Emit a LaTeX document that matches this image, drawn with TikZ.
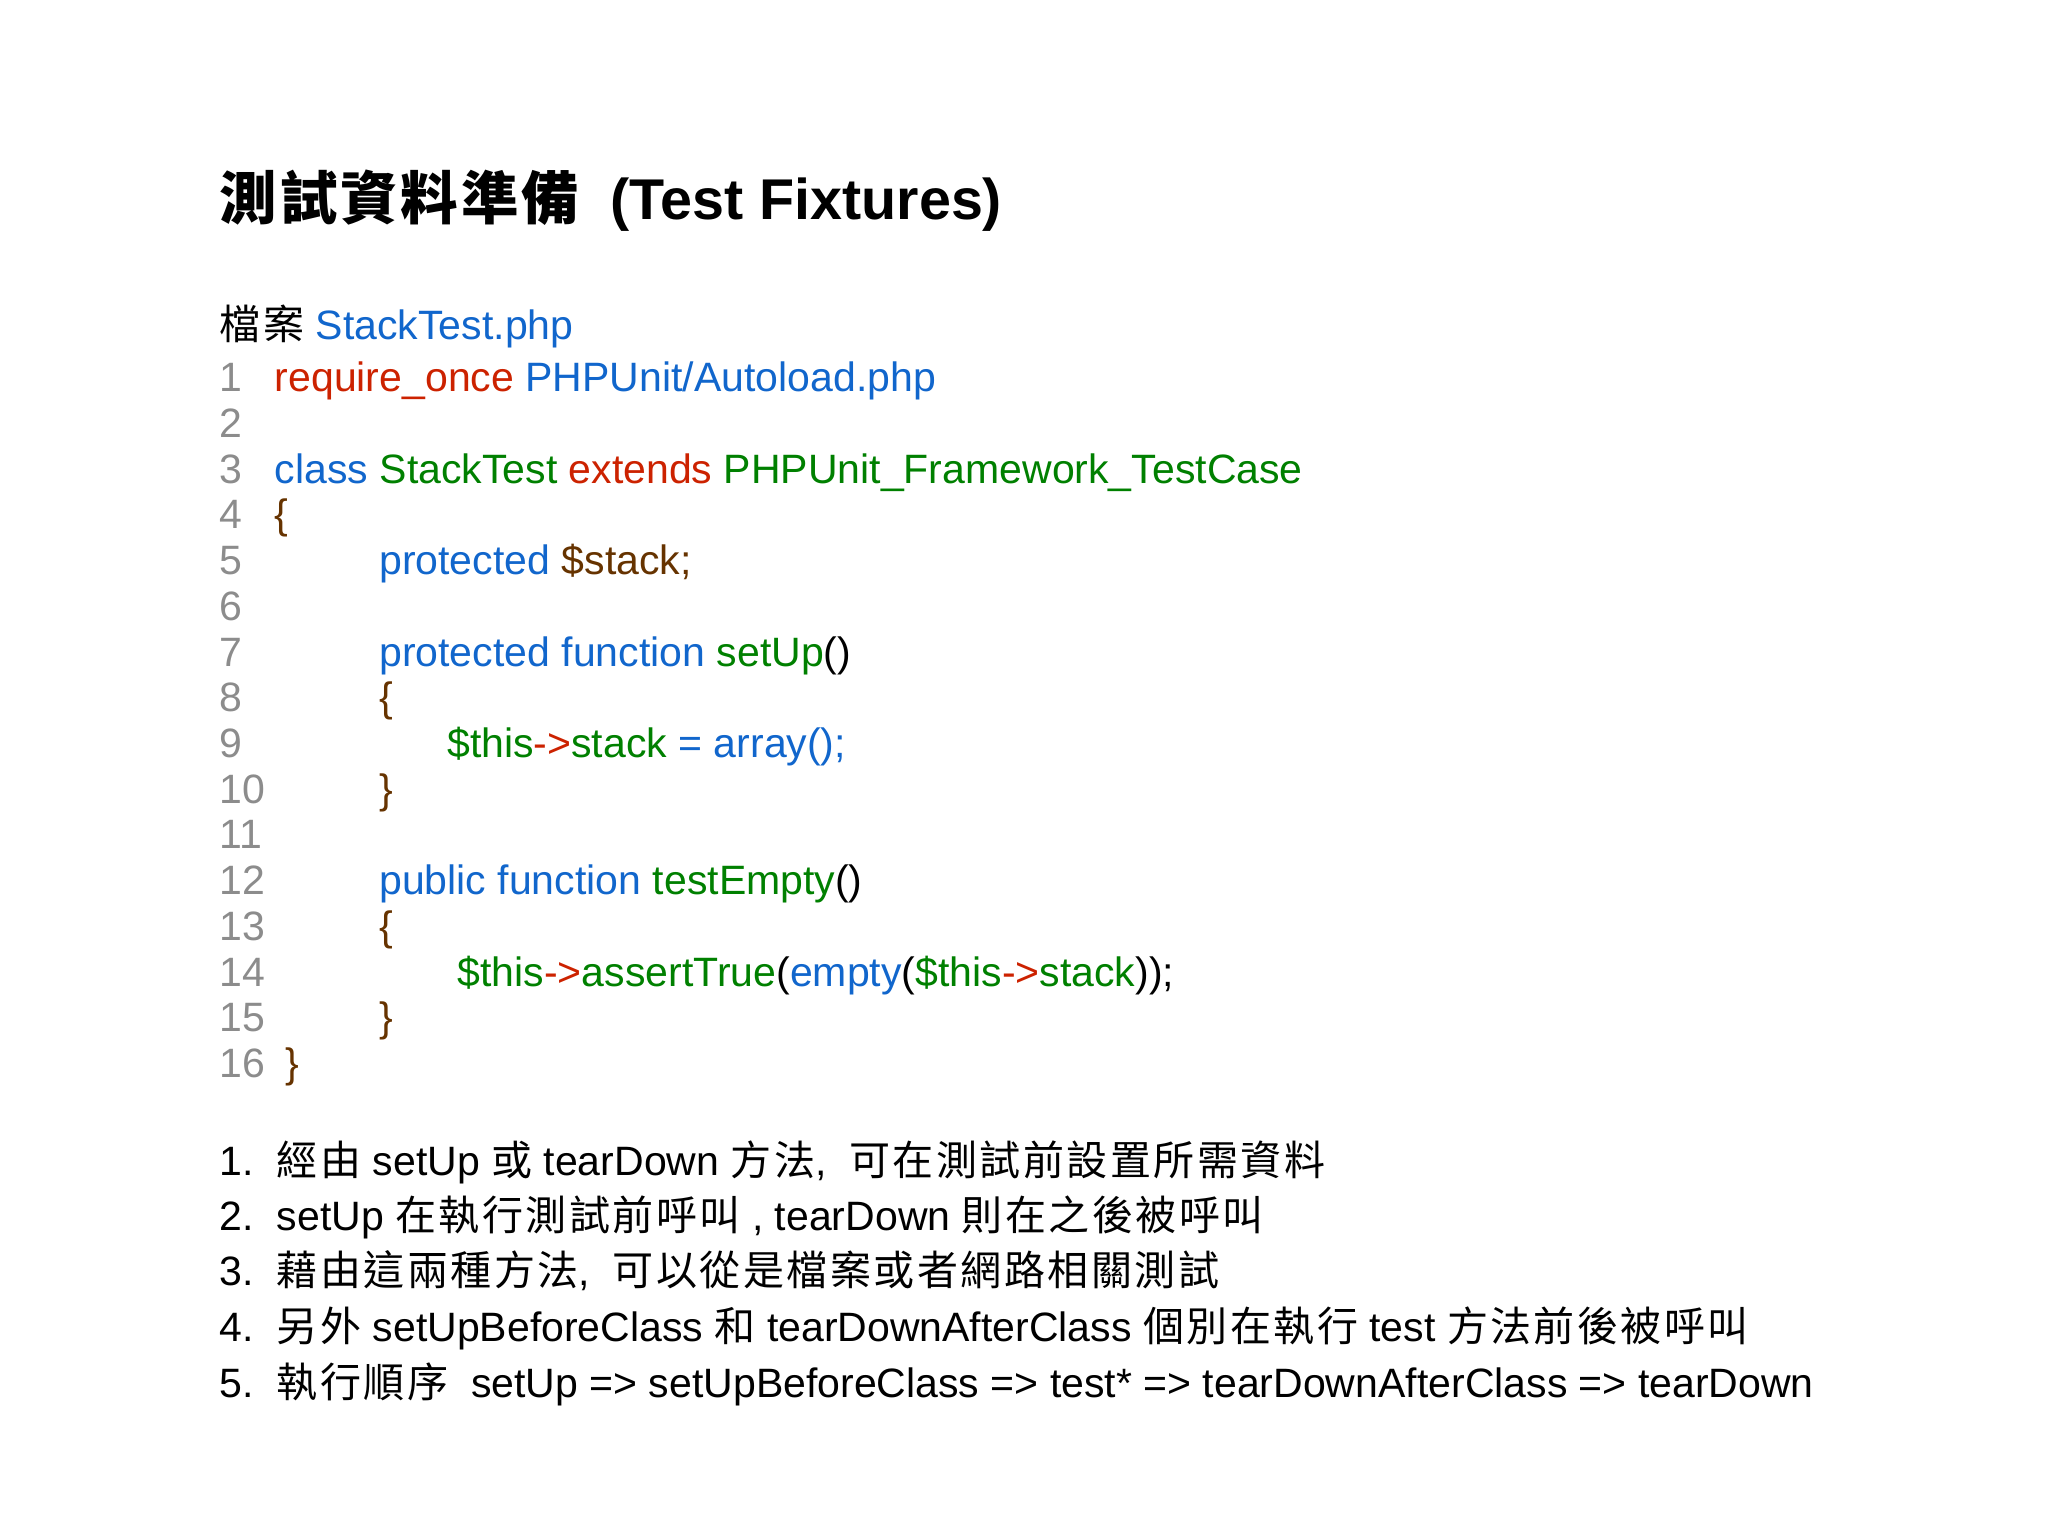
\documentclass[tikz,border=0pt]{standalone}
\usepackage{fontspec}
\setmainfont{Liberation Sans}
\newfontfamily\cjk[LetterSpace=6]{Noto Sans CJK TC}
\newfontfamily\cjkt[LetterSpace=5]{Noto Sans CJK TC}
\definecolor{kred}{RGB}{204,34,0}
\definecolor{kblue}{RGB}{17,102,204}
\definecolor{kgreen}{RGB}{0,128,0}
\definecolor{kbrown}{RGB}{102,51,0}
\definecolor{kgray}{RGB}{140,140,140}
\newcommand{\R}[1]{\textcolor{kred}{#1}}
\newcommand{\B}[1]{\textcolor{kblue}{#1}}
\newcommand{\G}[1]{\textcolor{kgreen}{#1}}
\newcommand{\N}[1]{\textcolor{kbrown}{#1}}
\begin{document}
\begin{tikzpicture}[x=0.5pt,y=-0.5pt,
  txt/.style={anchor=base west,inner sep=0pt,font=\fontsize{15.7}{18}\selectfont},
  num/.style={txt,text=kgray}]
\useasboundingbox (0,0) rectangle (1568,1176);
\node[anchor=base west,inner sep=0pt,font=\fontsize{22}{24}\selectfont\bfseries] (title) at (168,168) {{\cjkt 測試資料準備}\hspace{12pt}(Test Fixtures)};
\node[txt] (file) at (168,260) {{\cjk 檔案}\ \B{StackTest.php}};
\foreach \i in {1,...,16} {\node[num] (n\i) at (168,{265+35*\i}) {\i};}
\node[txt] (c1) at (210,300) {\R{require\_once} \B{PHPUnit/Autoload.php}};
\node[txt] (c3) at (210,370) {\B{class} \G{StackTest} \R{extends} \G{PHPUnit\_Framework\_TestCase}};
\node[txt] (c4) at (210,405) {\N{\{}};
\node[txt] (c5) at (290,440) {\B{protected} \N{\$stack;}};
\node[txt] (c7) at (290,510) {\B{protected function} \G{setUp}()};
\node[txt] (c8) at (290,545) {\N{\{}};
\node[txt] (c9) at (342,580) {\G{\$this}\R{->}\G{stack} \B{= array();}};
\node[txt] (c10) at (290,615) {\N{\}}};
\node[txt] (c12) at (290,685) {\B{public function} \G{testEmpty}()};
\node[txt] (c13) at (290,720) {\N{\{}};
\node[txt] (c14) at (350,755) {\G{\$this}\R{->}\G{assertTrue}(\B{empty}(\G{\$this}\R{->}\G{stack}));};
\node[txt] (c15) at (290,790) {\N{\}}};
\node[txt] (c16) at (218,825) {\N{\}}};
\node[txt] (b1) at (168,900) {1.\ \ {\cjk 經由} setUp {\cjk 或} tearDown {\cjk 方法}, \ {\cjk 可在測試前設置所需資料}};
\node[txt] (b2) at (168,942) {2.\ \ setUp {\cjk 在執行測試前呼叫} , tearDown {\cjk 則在之後被呼叫}};
\node[txt] (b3) at (168,984) {3.\ \ {\cjk 藉由這兩種方法}, \ {\cjk 可以從是檔案或者網路相關測試}};
\node[txt] (b4) at (168,1027) {4.\ \ {\cjk 另外} setUpBeforeClass {\cjk 和} tearDownAfterClass {\cjk 個別在執行} test {\cjk 方法前後被呼叫}};
\node[txt] (b5) at (168,1070) {5.\ \ {\cjk 執行順序}\ \ setUp => setUpBeforeClass => test* => tearDownAfterClass => tearDown};
\end{tikzpicture}
\end{document}
